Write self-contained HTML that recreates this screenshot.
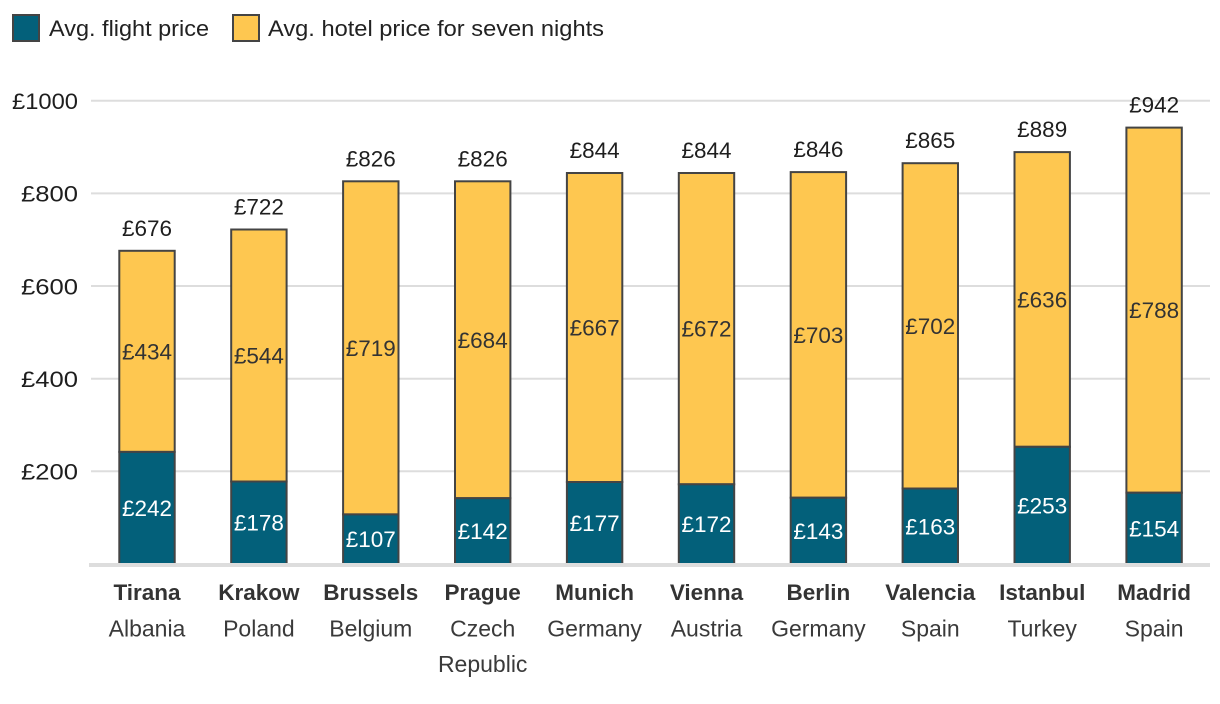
<!DOCTYPE html>
<html>
<head>
<meta charset="utf-8">
<style>
  html, body { margin: 0; padding: 0; background: #fff; }
  body { width: 1220px; height: 704px; overflow: hidden; }
  svg { display: block; font-family: "Liberation Sans", "DejaVu Sans", sans-serif; }
  .yl { font-size: 22.5px; fill: #1e1e1e; text-anchor: end; }
  .tot { font-size: 22.5px; fill: #1e1e1e; text-anchor: middle; }
  .fl { font-size: 22.5px; fill: #ffffff; text-anchor: middle; }
  .ho { font-size: 22.5px; fill: #333333; text-anchor: middle; }
  .city { font-size: 22.5px; font-weight: bold; fill: #333333; text-anchor: middle; }
  .ctry { font-size: 23px; fill: #3a3a3a; text-anchor: middle; }
  .leg { font-size: 22.5px; fill: #222222; }
  .f { fill: #03607a; stroke: #444444; stroke-width: 2; }
  .h { fill: #fec750; stroke: #444444; stroke-width: 2; }
</style>
</head>
<body>
<svg width="1220" height="704" viewBox="0 0 1220 704" xmlns="http://www.w3.org/2000/svg">
  <!-- Legend -->
  <rect x="13" y="15" width="26" height="26" class="f"/>
  <text x="49" y="36" class="leg" textLength="160" lengthAdjust="spacingAndGlyphs">Avg. flight price</text>
  <rect x="233" y="15" width="26" height="26" class="h"/>
  <text x="268" y="36" class="leg" textLength="336" lengthAdjust="spacingAndGlyphs">Avg. hotel price for seven nights</text>

  <!-- Gridlines -->
  <g stroke="#dddddd" stroke-width="2">
    <line x1="91" y1="100.7" x2="1210" y2="100.7"/>
    <line x1="91" y1="193.4" x2="1210" y2="193.4"/>
    <line x1="91" y1="286" x2="1210" y2="286"/>
    <line x1="91" y1="378.7" x2="1210" y2="378.7"/>
    <line x1="91" y1="471.3" x2="1210" y2="471.3"/>
  </g>

  <!-- Y labels -->
  <text x="78" y="109" class="yl" textLength="66" lengthAdjust="spacingAndGlyphs">£1000</text>
  <text x="78" y="201.7" class="yl" textLength="57" lengthAdjust="spacingAndGlyphs">£800</text>
  <text x="78" y="294.3" class="yl" textLength="57" lengthAdjust="spacingAndGlyphs">£600</text>
  <text x="78" y="387" class="yl" textLength="57" lengthAdjust="spacingAndGlyphs">£400</text>
  <text x="78" y="479.6" class="yl" textLength="57" lengthAdjust="spacingAndGlyphs">£200</text>

  <!-- Bars -->
  <rect x="119.3" y="250.8" width="55.4" height="201.1" class="h"/>
  <rect x="119.3" y="451.9" width="55.4" height="112.1" class="f"/>
  <rect x="231.2" y="229.5" width="55.4" height="252" class="h"/>
  <rect x="231.2" y="481.5" width="55.4" height="82.5" class="f"/>
  <rect x="343.1" y="181.3" width="55.4" height="333.1" class="h"/>
  <rect x="343.1" y="514.4" width="55.4" height="49.6" class="f"/>
  <rect x="455" y="181.3" width="55.4" height="316.9" class="h"/>
  <rect x="455" y="498.2" width="55.4" height="65.8" class="f"/>
  <rect x="566.9" y="173" width="55.4" height="309" class="h"/>
  <rect x="566.9" y="482" width="55.4" height="82" class="f"/>
  <rect x="678.8" y="173" width="55.4" height="311.3" class="h"/>
  <rect x="678.8" y="484.3" width="55.4" height="79.7" class="f"/>
  <rect x="790.7" y="172.1" width="55.4" height="325.6" class="h"/>
  <rect x="790.7" y="497.7" width="55.4" height="66.3" class="f"/>
  <rect x="902.6" y="163.2" width="55.4" height="325.3" class="h"/>
  <rect x="902.6" y="488.5" width="55.4" height="75.5" class="f"/>
  <rect x="1014.5" y="152.1" width="55.4" height="294.7" class="h"/>
  <rect x="1014.5" y="446.8" width="55.4" height="117.2" class="f"/>
  <rect x="1126.4" y="127.6" width="55.4" height="365.1" class="h"/>
  <rect x="1126.4" y="492.7" width="55.4" height="71.3" class="f"/>

  <!-- Axis baseline -->
  <line x1="89" y1="565" x2="1210" y2="565" stroke="#dddddd" stroke-width="4"/>

  <!-- Totals -->
  <text x="147" y="235.8" class="tot">£676</text>
  <text x="258.9" y="214.5" class="tot">£722</text>
  <text x="370.8" y="166.3" class="tot">£826</text>
  <text x="482.7" y="166.3" class="tot">£826</text>
  <text x="594.6" y="158" class="tot">£844</text>
  <text x="706.5" y="158" class="tot">£844</text>
  <text x="818.4" y="157.1" class="tot">£846</text>
  <text x="930.3" y="148.2" class="tot">£865</text>
  <text x="1042.2" y="137.1" class="tot">£889</text>
  <text x="1154.1" y="112.6" class="tot">£942</text>

  <!-- Hotel labels -->
  <text x="147" y="359.4" class="ho">£434</text>
  <text x="258.9" y="363.5" class="ho">£544</text>
  <text x="370.8" y="355.9" class="ho">£719</text>
  <text x="482.7" y="347.8" class="ho">£684</text>
  <text x="594.6" y="335.5" class="ho">£667</text>
  <text x="706.5" y="336.7" class="ho">£672</text>
  <text x="818.4" y="342.9" class="ho">£703</text>
  <text x="930.3" y="333.9" class="ho">£702</text>
  <text x="1042.2" y="307.5" class="ho">£636</text>
  <text x="1154.1" y="318.2" class="ho">£788</text>

  <!-- Flight labels -->
  <text x="147" y="516" class="fl">£242</text>
  <text x="258.9" y="530.7" class="fl">£178</text>
  <text x="370.8" y="547.2" class="fl">£107</text>
  <text x="482.7" y="539.1" class="fl">£142</text>
  <text x="594.6" y="531" class="fl">£177</text>
  <text x="706.5" y="532.2" class="fl">£172</text>
  <text x="818.4" y="538.9" class="fl">£143</text>
  <text x="930.3" y="534.3" class="fl">£163</text>
  <text x="1042.2" y="513.4" class="fl">£253</text>
  <text x="1154.1" y="536.4" class="fl">£154</text>

  <!-- Category labels -->
  <text x="147" y="600" class="city">Tirana</text>
  <text x="258.9" y="600" class="city">Krakow</text>
  <text x="370.8" y="600" class="city">Brussels</text>
  <text x="482.7" y="600" class="city">Prague</text>
  <text x="594.6" y="600" class="city">Munich</text>
  <text x="706.5" y="600" class="city">Vienna</text>
  <text x="818.4" y="600" class="city">Berlin</text>
  <text x="930.3" y="600" class="city">Valencia</text>
  <text x="1042.2" y="600" class="city">Istanbul</text>
  <text x="1154.1" y="600" class="city">Madrid</text>

  <text x="147" y="636.5" class="ctry">Albania</text>
  <text x="258.9" y="636.5" class="ctry">Poland</text>
  <text x="370.8" y="636.5" class="ctry">Belgium</text>
  <text x="482.7" y="636.5" class="ctry">Czech</text>
  <text x="482.7" y="672" class="ctry">Republic</text>
  <text x="594.6" y="636.5" class="ctry">Germany</text>
  <text x="706.5" y="636.5" class="ctry">Austria</text>
  <text x="818.4" y="636.5" class="ctry">Germany</text>
  <text x="930.3" y="636.5" class="ctry">Spain</text>
  <text x="1042.2" y="636.5" class="ctry">Turkey</text>
  <text x="1154.1" y="636.5" class="ctry">Spain</text>
</svg>
</body>
</html>
